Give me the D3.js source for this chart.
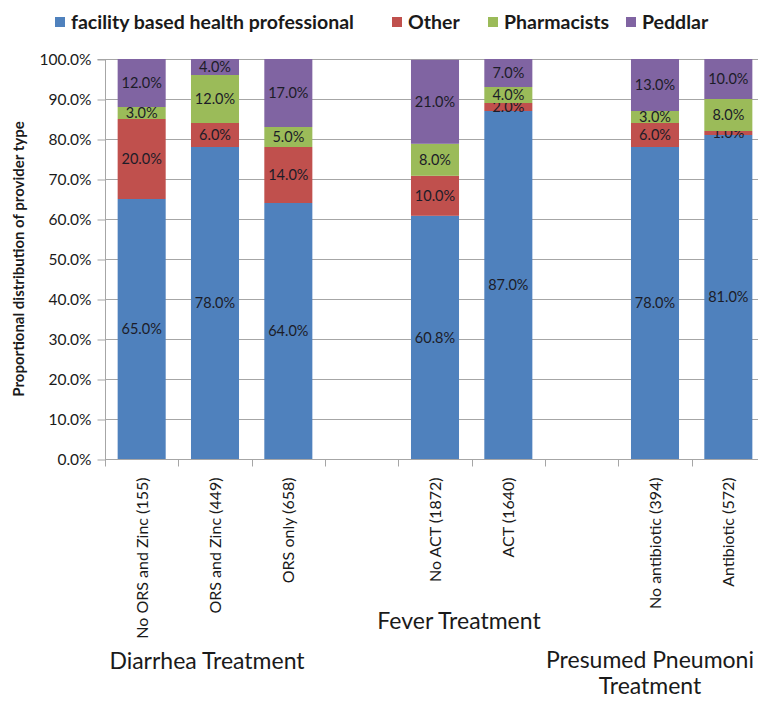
<!DOCTYPE html>
<html>
<head>
<meta charset="utf-8">
<script src="https://cdn.jsdelivr.net/npm/d3@7"></script>
<style>
  html, body { margin: 0; padding: 0; background: #ffffff; }
  svg { display: block; font-family: Lato, "Open Sans", sans-serif; }
</style>
</head>
<body>
<div id="chart"></div>
<script>
// categories, empty slots are the gaps between treatment groups
const categories = ['No ORS and Zinc (155)', 'ORS and Zinc (449)', 'ORS only (658)', '',
    'No ACT (1872)', 'ACT (1640)', '', 'No antibiotic (394)', 'Antibiotic (572)'];
const facility = [65, 78, 64, null, 60.8, 87, null, 78, 81];
const other = [20, 6, 14, null, 10, 2, null, 6, 1];
const pharmacists = [3, 12, 5, null, 8, 4, null, 3, 8];
const peddlar = [12, 4, 17, null, 21, 7, null, 13, 10];
const seriesNames = ['facility based health professional', 'Other', 'Pharmacists', 'Peddlar'];
const seriesColors = ['#4f81bd', '#c0504d', '#9bbb59', '#8064a2'];
const yTicks = [0, 10, 20, 30, 40, 50, 60, 70, 80, 90, 100];
const groupNames = [['Diarrhea Treatment'], ['Fever Treatment'], ['Presumed Pneumoni', 'Treatment']];

const width = 758;
const height = 701;
const margin = { top: 59, right: -7, bottom: 242, left: 105 };

const svg = d3.select('#chart').append('svg')
    .attr('width', width)
    .attr('height', height);

const rows = categories.map((c, i) => ({
    key: i, name: c,
    facility: facility[i] || 0, other: other[i] || 0,
    pharmacists: pharmacists[i] || 0, peddlar: peddlar[i] || 0,
    empty: c === ''
}));
const keys = ['facility', 'other', 'pharmacists', 'peddlar'];
const stacked = d3.stack().keys(keys)(rows);

const xScale = d3.scaleBand().domain(rows.map(d => d.key))
    .range([margin.left, width - margin.right])
    .paddingInner(0.345).paddingOuter(0.1725);
const yScale = d3.scaleLinear().domain([0, 100]).range([height - margin.bottom, margin.top]);

// gridlines
svg.append('g')
    .selectAll('line')
    .data(yTicks.filter(d => d > 0))
    .enter()
    .append('line')
    .attr('x1', margin.left)
    .attr('x2', width)
    .attr('y1', d => yScale(d) + 0.5)
    .attr('y2', d => yScale(d) + 0.5)
    .attr('stroke', '#a6a6a6')
    .attr('stroke-width', 1);

// bars
const layers = svg.append('g').selectAll('g')
    .data(stacked)
    .enter()
    .append('g')
    .attr('fill', (d, i) => seriesColors[i]);
layers.selectAll('rect')
    .data(d => d.filter(p => !p.data.empty))
    .enter()
    .append('rect')
    .attr('x', d => xScale(d.data.key))
    .attr('width', xScale.bandwidth())
    .attr('y', d => yScale(d[1]))
    .attr('height', d => yScale(d[0]) - yScale(d[1]));

// segment labels
layers.selectAll('text')
    .data(d => d.filter(p => !p.data.empty))
    .enter()
    .append('text')
    .attr('x', d => xScale(d.data.key) + xScale.bandwidth() / 2)
    .attr('y', d => yScale((d[0] + d[1]) / 2))
    .attr('dy', '0.36em')
    .attr('text-anchor', 'middle')
    .attr('fill', '#1c1c28')
    .style('font-size', '14.5px')
    .text(d => d3.format('.1f')(d[1] - d[0]) + '%');

// y axis
const yAxis = d3.axisLeft(yScale).tickValues(yTicks).tickSize(8).tickPadding(6)
    .tickFormat(d => d.toFixed(1) + '%');
const yg = svg.append('g')
    .attr('transform', `translate(${margin.left + 0.5}, 0.5)`)
    .call(yAxis);
yg.selectAll('line, path').attr('stroke', '#a6a6a6');
yg.select('.domain').attr('d', `M-8,${yScale(100)}H0V${yScale(0)}`);
yg.selectAll('text').attr('fill', '#1a1a1a').style('font-size', '15.5px')
    .style('font-family', 'Lato, sans-serif');

// x axis baseline and ticks at category boundaries
const step = xScale.step();
const x0 = margin.left;
const base = yScale(0) + 0.5;
svg.append('line')
    .attr('x1', x0).attr('x2', width)
    .attr('y1', base).attr('y2', base)
    .attr('stroke', '#a6a6a6');
svg.append('g').selectAll('line')
    .data(d3.range(categories.length + 1))
    .enter()
    .append('line')
    .attr('x1', i => Math.round(x0 + i * step) + 0.5)
    .attr('x2', i => Math.round(x0 + i * step) + 0.5)
    .attr('y1', base)
    .attr('y2', base + 7)
    .attr('stroke', '#a6a6a6');

// category labels, rotated
svg.append('g').selectAll('text')
    .data(rows.filter(d => !d.empty))
    .enter()
    .append('text')
    .attr('transform', d => `translate(${xScale(d.key) + xScale.bandwidth() / 2 + 6}, ${base + 18}) rotate(-90)`)
    .attr('text-anchor', 'end')
    .attr('fill', '#1a1a1a')
    .style('font-size', '16px')
    .text(d => d.name);

// group labels
const groupX = [207, 459, 650];
const groupY = [669, 629, 668];
svg.append('g').selectAll('text')
    .data(groupNames)
    .enter()
    .append('text')
    .attr('x', (d, i) => groupX[i])
    .attr('y', (d, i) => groupY[i])
    .attr('text-anchor', 'middle')
    .attr('fill', '#1a1a1a')
    .style('font-size', '23px')
    .selectAll('tspan')
    .data(d => d)
    .enter()
    .append('tspan')
    .attr('x', function () { return this.parentNode.getAttribute('x'); })
    .attr('dy', (d, i) => i === 0 ? 0 : 26)
    .text(d => d);

// y axis title
svg.append('text')
    .attr('transform', `translate(24, ${(yScale(0) + yScale(100)) / 2}) rotate(-90)`)
    .attr('text-anchor', 'middle')
    .attr('fill', '#1a1a1a')
    .style('font-size', '15px')
    .style('font-weight', '700')
    .text('Proportional distribution of provider type');

// legend
const legendX = [55, 392, 488, 626];
const legend = svg.append('g').selectAll('g')
    .data(seriesNames)
    .enter()
    .append('g')
    .attr('transform', (d, i) => `translate(${legendX[i]}, 22)`);
legend.append('rect')
    .attr('x', 0).attr('y', -5)
    .attr('width', 10).attr('height', 10)
    .attr('fill', (d, i) => seriesColors[i]);
legend.append('text')
    .attr('x', 16)
    .attr('dy', '0.36em')
    .attr('fill', '#1a1a1a')
    .style('font-size', '19.5px')
    .style('font-weight', '700')
    .text(d => d);
</script>
</body>
</html>
